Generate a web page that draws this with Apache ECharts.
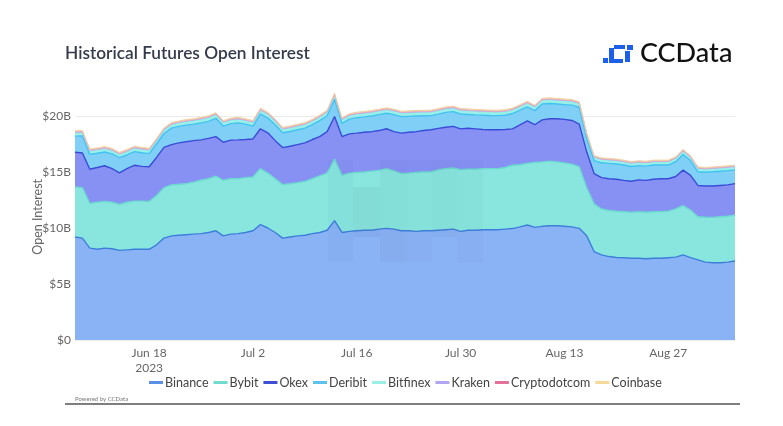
<!DOCTYPE html>
<html><head><meta charset="utf-8">
<script src="https://cdn.jsdelivr.net/npm/echarts@6/dist/echarts.min.js"></script>
<style>html,body{margin:0;padding:0;background:#fff}#c{width:783px;height:426px}</style>
</head><body><div id="c"></div>
<script>
// Dates: Jun 8 2023 .. Sep 5 2023 (daily)
const startDate = '2023-06-08';
const dayCount = 90;
const tickLabels = ['Jun 18', 'Jul 2', 'Jul 16', 'Jul 30', 'Aug 13', 'Aug 27'];
const seriesNames = ['Binance','Bybit','Okex','Deribit','Bitfinex','Kraken','Cryptodotcom','Coinbase'];

// Values in $B
const binance = [9.2,9.1,8.2,8.1,8.2,8.15,8.0,8.05,8.1,8.1,8.1,8.5,9.1,9.3,9.35,9.4,9.45,9.5,9.6,9.75,9.3,9.45,9.5,9.6,9.75,10.3,10.0,9.6,9.1,9.2,9.3,9.35,9.5,9.6,9.8,10.66,9.6,9.7,9.75,9.8,9.8,9.9,9.97,9.9,9.75,9.75,9.7,9.75,9.75,9.8,9.85,9.9,9.7,9.8,9.8,9.85,9.85,9.85,9.9,9.95,10.1,10.27,10.06,10.15,10.2,10.2,10.15,10.1,9.97,9.3,7.9,7.6,7.45,7.36,7.35,7.3,7.3,7.25,7.3,7.3,7.35,7.4,7.6,7.35,7.15,6.95,6.9,6.9,6.95,7.05];
const bybit = [4.46,4.5,4.0,4.2,4.17,4.15,4.1,4.25,4.3,4.3,4.27,4.4,4.5,4.55,4.55,4.56,4.65,4.76,4.8,4.87,4.96,4.95,4.9,4.9,4.81,5.0,4.9,4.8,4.77,4.75,4.75,4.8,4.9,5.05,5.1,5.49,5.1,5.2,5.2,5.2,5.27,5.25,5.33,5.2,5.11,5.15,5.25,5.25,5.25,5.4,5.45,5.46,5.5,5.45,5.45,5.45,5.45,5.45,5.5,5.65,5.55,5.5,5.79,5.75,5.77,5.7,5.65,5.6,5.49,4.3,4.26,4.1,4.11,4.14,4.1,4.1,4.15,4.15,4.15,4.15,4.15,4.3,4.4,4.25,3.85,4.01,4.05,4.1,4.1,4.1];
const okex = [3.1,3.1,3.05,3.1,3.19,3.0,2.83,3.0,3.2,3.1,3.1,3.4,3.6,3.6,3.7,3.74,3.7,3.61,3.6,3.54,3.4,3.45,3.47,3.4,3.39,3.56,3.6,3.4,3.31,3.35,3.4,3.45,3.5,3.51,3.7,3.81,3.46,3.5,3.52,3.55,3.53,3.55,3.56,3.5,3.61,3.65,3.65,3.7,3.77,3.7,3.7,3.71,3.65,3.65,3.6,3.5,3.47,3.47,3.4,3.25,3.55,3.8,3.37,3.75,3.79,3.85,3.9,3.9,3.82,3.2,2.7,2.8,2.84,2.85,2.8,2.77,2.85,2.85,2.9,2.95,2.9,2.9,3.17,3.1,2.8,2.79,2.8,2.8,2.8,2.81];
const deribit = [1.44,1.52,1.32,1.27,1.23,1.32,1.35,1.22,1.22,1.22,1.17,1.22,1.24,1.47,1.47,1.49,1.47,1.52,1.52,1.63,1.44,1.47,1.52,1.37,1.15,1.32,1.32,1.42,1.32,1.32,1.32,1.32,1.32,1.42,1.42,1.54,1.18,1.32,1.38,1.37,1.4,1.42,1.38,1.52,1.47,1.42,1.4,1.32,1.26,1.27,1.32,1.32,1.33,1.24,1.25,1.27,1.27,1.26,1.27,1.37,1.32,1.25,1.26,1.43,1.36,1.32,1.32,1.37,1.5,1.22,1.16,1.32,1.37,1.37,1.37,1.32,1.27,1.27,1.27,1.22,1.22,1.32,1.4,1.32,1.22,1.23,1.27,1.27,1.27,1.23];
const bitfinex = [0.30,0.31,0.29,0.30,0.30,0.29,0.29,0.30,0.30,0.30,0.29,0.30,0.31,0.31,0.31,0.31,0.31,0.31,0.32,0.32,0.31,0.31,0.31,0.31,0.31,0.32,0.32,0.31,0.31,0.31,0.31,0.31,0.31,0.32,0.32,0.33,0.31,0.31,0.31,0.31,0.31,0.31,0.31,0.31,0.31,0.31,0.31,0.31,0.31,0.31,0.31,0.31,0.31,0.31,0.31,0.31,0.31,0.31,0.31,0.31,0.31,0.32,0.31,0.32,0.32,0.32,0.32,0.32,0.32,0.30,0.28,0.28,0.28,0.28,0.28,0.28,0.28,0.28,0.28,0.28,0.28,0.28,0.29,0.28,0.27,0.27,0.27,0.27,0.27,0.27];
const kraken = [0.05,0.05,0.05,0.05,0.05,0.05,0.05,0.05,0.05,0.05,0.05,0.05,0.05,0.05,0.05,0.05,0.05,0.05,0.05,0.05,0.05,0.05,0.05,0.05,0.05,0.06,0.06,0.05,0.05,0.05,0.05,0.05,0.05,0.05,0.05,0.06,0.05,0.05,0.05,0.05,0.05,0.05,0.05,0.05,0.05,0.05,0.05,0.05,0.05,0.05,0.05,0.05,0.05,0.05,0.05,0.05,0.05,0.05,0.05,0.05,0.05,0.05,0.05,0.05,0.05,0.05,0.05,0.05,0.05,0.05,0.04,0.04,0.04,0.04,0.04,0.04,0.04,0.04,0.04,0.04,0.04,0.04,0.04,0.04,0.04,0.04,0.04,0.04,0.04,0.04];
const cryptodotcom = [0.03,0.03,0.03,0.03,0.03,0.03,0.03,0.03,0.03,0.03,0.03,0.03,0.03,0.03,0.03,0.03,0.03,0.03,0.03,0.03,0.03,0.03,0.03,0.03,0.03,0.03,0.03,0.03,0.03,0.03,0.03,0.03,0.03,0.03,0.03,0.04,0.03,0.03,0.03,0.03,0.03,0.03,0.03,0.03,0.03,0.03,0.03,0.03,0.03,0.03,0.03,0.03,0.03,0.03,0.03,0.03,0.03,0.03,0.03,0.03,0.03,0.03,0.03,0.03,0.03,0.03,0.03,0.03,0.03,0.03,0.03,0.03,0.03,0.03,0.03,0.03,0.03,0.03,0.03,0.03,0.03,0.03,0.03,0.03,0.03,0.03,0.03,0.03,0.03,0.03];
const coinbase = [0.10,0.10,0.11,0.10,0.10,0.11,0.11,0.10,0.10,0.10,0.11,0.10,0.10,0.10,0.10,0.10,0.10,0.10,0.10,0.10,0.10,0.10,0.10,0.10,0.10,0.11,0.11,0.10,0.10,0.10,0.10,0.10,0.10,0.10,0.10,0.11,0.10,0.10,0.10,0.10,0.10,0.10,0.10,0.10,0.10,0.10,0.10,0.10,0.10,0.10,0.10,0.10,0.10,0.10,0.10,0.10,0.10,0.10,0.10,0.10,0.10,0.10,0.10,0.10,0.10,0.10,0.10,0.10,0.10,0.10,0.09,0.09,0.09,0.09,0.09,0.09,0.09,0.09,0.09,0.09,0.09,0.09,0.09,0.09,0.09,0.09,0.09,0.09,0.09,0.09];

const seriesValues = [binance, bybit, okex, deribit, bitfinex, kraken, cryptodotcom, coinbase];
const areaColors = ['#8AB3F6','#88E6DE','#8791F4','#7FCFF6','#9AF0E8','#B7ABF2','#EBA5BC','#F4D8A8'];
const lineColors = ['#3E7EDB','#6CDACF','#3A4BD6','#42C2F0','#8CEDE4','#AFA3F0','#EAB0C0','#F0CFA0'];
const legendColors = ['#5A8FE6','#6FDCCF','#3F4FD3','#5CC3EF','#9AEFE6','#B0A6F2','#E4709C','#F5D99A'];

const months = ['Jan','Feb','Mar','Apr','May','Jun','Jul','Aug','Sep','Oct','Nov','Dec'];
const categories = [];
{
  const d0 = new Date(startDate + 'T00:00:00Z');
  for (let i = 0; i < dayCount; i++) {
    const d = new Date(d0.getTime() + i * 86400000);
    categories.push(months[d.getUTCMonth()] + ' ' + d.getUTCDate());
  }
}

const chart = echarts.init(document.getElementById('c'), null, {renderer: 'canvas'});
const FONT = 'Lato, "Noto Sans", sans-serif';

const series = seriesNames.map((name, i) => ({
  name, type: 'line', stack: 'oi', symbol: 'none', smooth: false,
  data: seriesValues[i],
  lineStyle: {color: lineColors[i], width: i < 4 ? 1.4 : 1},
  itemStyle: {color: legendColors[i]},
  areaStyle: {color: areaColors[i], opacity: 1},
  emphasis: {disabled: true}
}));

// watermark squares
const wm = [
  [328,160,25,102,0.03],[353,187,27,50,0.05],[380,160,27,102,0.04],
  [407,160,25,102,0.025],[432,160,25,77,0.04],[457,160,26,103,0.025]
];

chart.setOption({
  animation: false,
  textStyle: {fontFamily: FONT},
  grid: {left: 75, right: 48, top: 93.6, bottom: 86},
  xAxis: {
    type: 'category', data: categories, boundaryGap: false,
    axisLine: {show: false}, axisTick: {show: false},
    axisLabel: {
      color: '#666', fontSize: 12, margin: 6, lineHeight: 15,
      interval: (idx) => (idx - 10) % 14 === 0 && idx >= 10,
      formatter: (v) => tickLabels.includes(v) ? (v === 'Jun 18' ? v + '\n2023' : v) : ''
    },
    splitLine: {show: false}
  },
  yAxis: {
    type: 'value', min: 0, max: 22, interval: 5,
    name: 'Open Interest', nameLocation: 'middle', nameGap: 31, nameMoveOverlap: false,
    nameTextStyle: {color: '#666', fontSize: 12.5, fontFamily: FONT},
    axisLine: {show: false}, axisTick: {show: false},
    axisLabel: {color: '#666', fontSize: 12, margin: 4, showMaxLabel: false,
      formatter: (v) => v === 0 ? '$0' : '$' + v + 'B'},
    splitLine: {show: true, showMaxLine: false, lineStyle: {color: '#ececec', width: 1}}
  },
  legend: {
    data: seriesNames, left: 144, top: 371, itemGap: 5,
    icon: 'rect', itemWidth: 14, itemHeight: 3,
    textStyle: {color: '#444', fontSize: 12.5, fontFamily: FONT, padding: [0,0,0,-3]},
    selectedMode: false
  },
  series,
  graphic: [
    {type: 'text', left: 65, top: 45, style: {text: 'Historical Futures Open Interest', fill: '#343b4c', font: '600 17.3px ' + FONT}},
    {type: 'text', left: 640, top: 40, style: {text: 'CCData', fill: '#111', font: '500 27px ' + FONT}},
    // logo icon
    {type: 'rect', shape: {x: 603, y: 58, width: 5, height: 5}, style: {fill: '#1D5FE8'}},
    {type: 'rect', shape: {x: 609, y: 48, width: 5, height: 15}, style: {fill: '#1D5FE8'}},
    {type: 'rect', shape: {x: 614, y: 45, width: 11, height: 4}, style: {fill: '#1D5FE8'}},
    {type: 'rect', shape: {x: 627, y: 45, width: 6, height: 5}, style: {fill: '#1D5FE8'}},
    {type: 'rect', shape: {x: 625, y: 51, width: 5, height: 11}, style: {fill: '#1D5FE8'}},
    {type: 'rect', shape: {x: 614, y: 59, width: 9, height: 4}, style: {fill: '#1D5FE8'}},
    ...wm.map(r => ({type: 'rect', z: 10, shape: {x: r[0], y: r[1], width: r[2], height: r[3]}, style: {fill: 'rgba(40,60,80,' + r[4] + ')'}})),
    {type: 'text', left: 75, top: 396, style: {text: 'Powered by CCData', fill: '#777', font: '6px ' + FONT}},
    {type: 'line', shape: {x1: 65, y1: 404, x2: 740, y2: 404}, style: {stroke: '#555', lineWidth: 1.5}}
  ]
});
</script></body></html>
